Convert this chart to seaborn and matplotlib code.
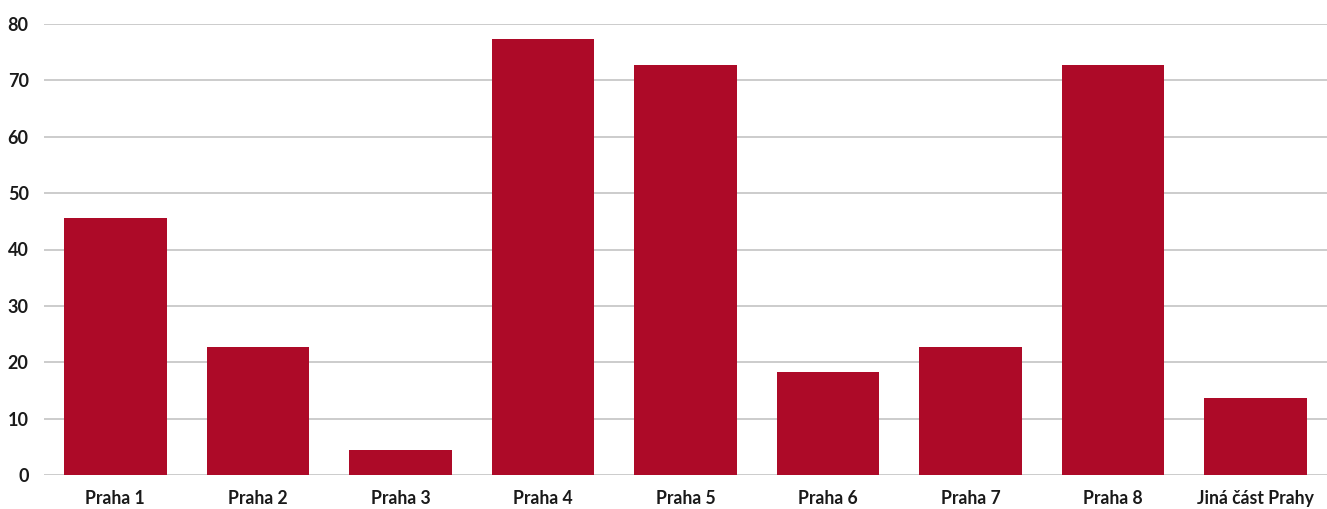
import matplotlib
matplotlib.use('Agg')
import matplotlib.pyplot as plt
import seaborn as sns

# data
districts = ['Praha 1', 'Praha 2', 'Praha 3', 'Praha 4', 'Praha 5',
             'Praha 6', 'Praha 7', 'Praha 8', 'Jiná část Prahy']
values = [45.5, 22.7, 4.5, 77.3, 72.7, 18.2, 22.7, 72.7, 13.6]
yticks = [0, 10, 20, 30, 40, 50, 60, 70, 80]

sns.set_style('white')
plt.rcParams['font.family'] = ['Lato', 'DejaVu Sans']

fig = plt.figure(figsize=(13.27, 5.09), dpi=100)
ax = fig.add_axes([44 / 1327, (509 - 475) / 509, (1327 - 44) / 1327, (475 - 24) / 509])

sns.barplot(x=districts, y=values, color='#AD0A28', width=0.72,
            saturation=1, linewidth=0, ax=ax, zorder=3)

ax.set_ylim(0, 80)
ax.set_xlim(-0.5, 8.5)
ax.set_yticks(yticks)
ax.set_yticklabels([str(t) for t in yticks], fontsize=13, fontweight='bold', color='#1a1a1a')
ax.set_xticklabels(districts, fontsize=12.7, fontweight='bold', color='#1a1a1a')
ax.yaxis.grid(True, color='#c4c4c4', linewidth=1.2, zorder=0)
ax.set_axisbelow(True)
for s in ax.spines.values():
    s.set_visible(False)
ax.tick_params(axis='both', length=0)
ax.tick_params(axis='y', pad=11)
ax.tick_params(axis='x', pad=11)
ax.set_xlabel('')
ax.set_ylabel('')

fig.savefig('out.png', dpi=100)
